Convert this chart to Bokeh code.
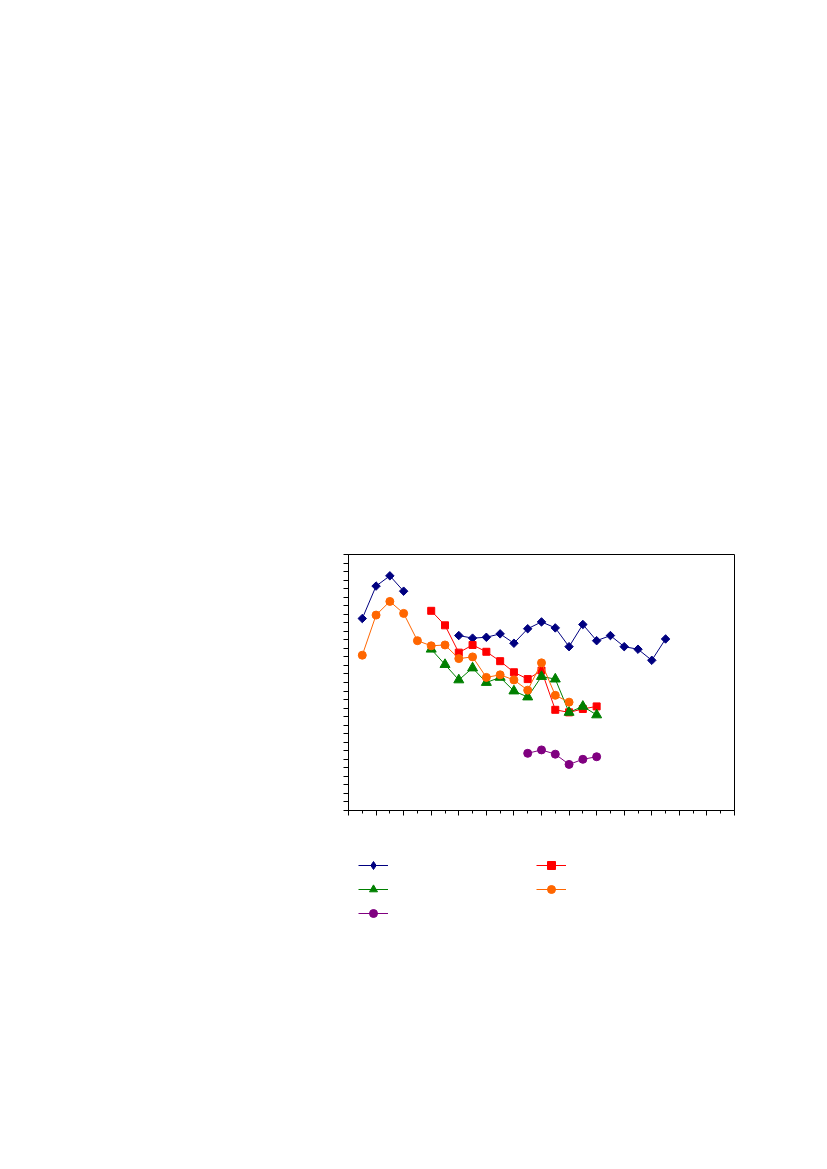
import math
from bokeh.plotting import figure
from bokeh.layouts import column
from bokeh.models import FixedTicker, Legend, LegendItem, Range1d
from bokeh.embed import file_html
from bokeh.resources import INLINE

nan = float("nan")

periods = list(range(1, 24))

series_blue = [22.5, 26.3, 27.5, 25.7, nan, nan, nan, 20.5, 20.2, 20.3, 20.7, 19.6,
               21.3, 22.1, 21.4, 19.2, 21.8, 19.9, 20.5, 19.2, 18.9, 17.6, 20.1]
series_red = [nan] * 5 + [23.4, 21.7, 18.5, 19.4, 18.6, 17.5, 16.2, 15.4, 16.4,
                          11.8, 11.5, 11.9, 12.2] + [nan] * 5
series_green = [nan] * 5 + [18.9, 17.1, 15.3, 16.7, 15.0, 15.6, 14.0, 13.3, 15.7,
                            15.4, 11.5, 12.2, 11.2] + [nan] * 5
series_orange = [18.2, 22.9, 24.5, 23.1, 19.9, 19.3, 19.4, 17.8, 18.0, 15.6, 15.9,
                 15.3, 14.1, 17.3, 13.5, 12.7] + [nan] * 7
series_purple = [nan] * 12 + [6.7, 7.1, 6.6, 5.4, 6.0, 6.3] + [nan] * 5

x_ticks_major = list(range(0, 29, 2))
x_ticks_minor = list(range(0, 29))
y_ticks = list(range(0, 31))

p = figure(frame_width=386, frame_height=256,
           x_range=Range1d(0, 28), y_range=Range1d(0, 30),
           min_border_left=348, min_border_right=85,
           min_border_top=554, min_border_bottom=40,
           output_backend="svg", toolbar_location=None)
p.background_fill_color = "white"
p.border_fill_color = "white"
p.outline_line_color = "black"
p.outline_line_width = 1
p.grid.visible = False

p.xaxis.ticker = FixedTicker(ticks=x_ticks_major, minor_ticks=x_ticks_minor)
p.xaxis.major_label_overrides = {t: "" for t in x_ticks_major}
p.xaxis.major_tick_out = 5
p.xaxis.major_tick_in = 0
p.xaxis.minor_tick_out = 3
p.xaxis.minor_tick_in = 0

p.yaxis.ticker = FixedTicker(ticks=y_ticks, minor_ticks=[])
p.yaxis.major_label_overrides = {t: "" for t in y_ticks}
p.yaxis.major_tick_out = 5
p.yaxis.major_tick_in = 0
p.yaxis.minor_tick_out = 0

for ax in (p.xaxis, p.yaxis):
    ax.axis_line_color = "black"
    ax.major_tick_line_color = "black"
    ax.minor_tick_line_color = "black"

styles = [
    (series_blue, "#000080", "square", 6, math.pi / 4, "diamond"),
    (series_red, "#FF0000", "square", 7, 0, "square"),
    (series_green, "#008000", "triangle", 10, 0, "triangle"),
    (series_orange, "#FF6600", "circle", 8, 0, "circle"),
    (series_purple, "#800080", "circle", 8, 0, "circle"),
]

for vals, col, mk, sz, ang, _ in styles:
    p.line(periods, vals, line_color=col, line_width=1)
    p.scatter(periods, vals, marker=mk, size=sz, angle=ang,
              fill_color=col, line_color=col, line_width=1)

# legend strip below the chart (keys only, no label text)
leg_fig = figure(frame_width=811, frame_height=110, min_border=0,
                 x_range=Range1d(0, 1), y_range=Range1d(0, 1),
                 x_axis_type=None, y_axis_type=None,
                 output_backend="svg", toolbar_location=None)
leg_fig.outline_line_color = None
leg_fig.background_fill_color = "white"
leg_fig.border_fill_color = "white"
leg_fig.grid.visible = False

# one key point per series, kept outside the strip's visible range
key_x = [-10.0, -11.0]
key_y = [-10.0, -11.0]

items = []
for vals, col, mk, sz, ang, legend_mk in styles:
    ln = leg_fig.line(key_x, key_y, line_color=col, line_width=1)
    sc = leg_fig.scatter(key_x, key_y, marker=legend_mk, fill_color=col,
                         line_color=col, line_width=1)
    items.append(LegendItem(label="\u2800", renderers=[ln, sc]))

legend = Legend(items=items, ncols=2, orientation="horizontal",
                location=(358, 37),
                glyph_width=30, glyph_height=20, label_width=144,
                label_standoff=0, spacing=4, padding=0, margin=0,
                border_line_color=None, background_fill_alpha=0,
                label_text_font="DejaVu Sans", label_text_font_size="10px")
leg_fig.add_layout(legend, "center")

layout = column(p, leg_fig)
open("out.html", "w").write(file_html(layout, INLINE))
